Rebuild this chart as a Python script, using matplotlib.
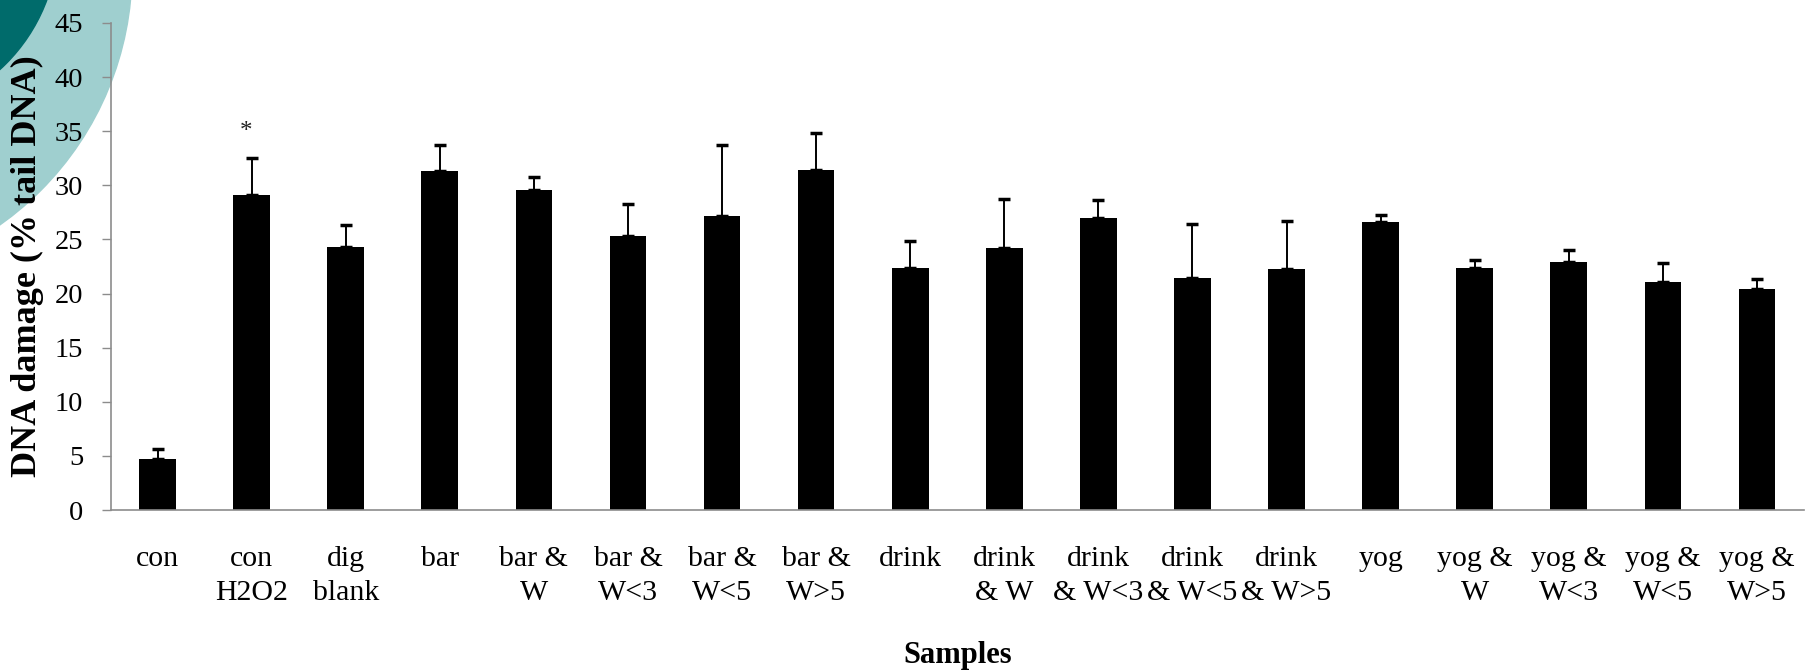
import numpy as np
import matplotlib
matplotlib.use("Agg")
import matplotlib.pyplot as plt
from matplotlib.patches import Ellipse

# данные
samples = ["con", "con\nH2O2", "dig\nblank", "bar", "bar &\nW", "bar &\nW<3",
           "bar &\nW<5", "bar &\nW>5", "drink", "drink\n& W", "drink\n& W<3",
           "drink\n& W<5", "drink\n& W>5", "yog", "yog &\nW", "yog &\nW<3",
           "yog &\nW<5", "yog &\nW>5"]
tail_dna = [4.7, 29.1, 24.3, 31.3, 29.6, 25.3, 27.2, 31.4, 22.4,
            24.2, 27.0, 21.4, 22.3, 26.6, 22.4, 22.9, 21.1, 20.4]
tail_err = [0.9, 3.4, 2.0, 2.4, 1.2, 3.0, 6.5, 3.4, 2.5,
            4.5, 1.6, 5.0, 4.4, 0.7, 0.7, 1.1, 1.7, 0.9]
significant = [1]
yticks = [0, 5, 10, 15, 20, 25, 30, 35, 40, 45]

W, H = 1807, 671
fig = plt.figure(figsize=(W / 100, H / 100), dpi=100)

# декоративные круги слайда в левом верхнем углу
r1, r2 = 312, 178
fig.patches.append(Ellipse((-180 / W, (H + 30) / H), 2 * r1 / W, 2 * r1 / H,
                           transform=fig.transFigure, color="#9fcfcf", zorder=0))
fig.patches.append(Ellipse((-120 / W, (H + 62) / H), 2 * r2 / W, 2 * r2 / H,
                           transform=fig.transFigure, color="#006b6b", zorder=0))

ax = fig.add_axes([110.5 / W, 161 / H, (1804 - 110.5) / W, 487 / H])
ax.set_zorder(2)
ax.patch.set_alpha(0)

x = np.arange(len(samples))
ax.bar(x, tail_dna, width=0.39, color="black", zorder=2)
ax.errorbar(x, tail_dna, yerr=[np.zeros(len(x)), tail_err], fmt="none",
            ecolor="black", elinewidth=1.4, capsize=4.2, capthick=2.5, zorder=3)

for i in significant:
    ax.text(x[i] - 0.06, tail_dna[i] + tail_err[i] + 2.4, "*", ha="center",
            va="center", fontsize=18, family="Liberation Serif", color="#222222")

ax.set_xlim(-0.5, len(samples) - 0.5)
ax.set_ylim(0, 45)
ax.set_yticks(yticks)
ax.set_xticks(x)
ax.set_xticklabels(samples, family="Liberation Serif", fontsize=21.5,
                   linespacing=1.4)
ax.set_yticklabels([str(t) for t in yticks], family="Liberation Serif",
                   fontsize=20.5)

for s in ["top", "right"]:
    ax.spines[s].set_visible(False)
for s in ["left", "bottom"]:
    ax.spines[s].set_color("#8c8c8c")
    ax.spines[s].set_linewidth(1.2)

ax.tick_params(axis="y", direction="out", length=6.5, width=1.0,
               color="#8c8c8c", pad=13)
ax.tick_params(axis="x", length=0, pad=26)

ax.set_xlabel("Samples", family="Liberation Serif", fontsize=22,
              fontweight="bold")
ax.xaxis.set_label_coords(0.5, -0.27)
ax.set_ylabel("DNA damage (% tail DNA)", family="Liberation Serif",
              fontsize=26, fontweight="bold")
ax.yaxis.set_label_coords(-0.039, 0.5)

fig.savefig("out.png", dpi=100)
